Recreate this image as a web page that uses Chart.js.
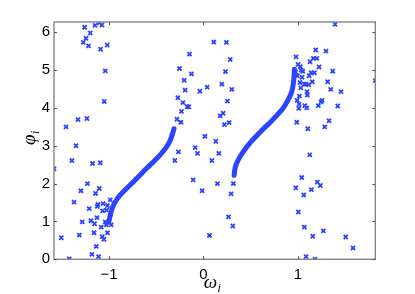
<!DOCTYPE html>
<html>
<head>
<meta charset="utf-8">
<script src="https://cdn.jsdelivr.net/npm/chart.js@4"></script>
<style>
html,body{margin:0;padding:0;background:#fff;}
canvas{display:block;}
</style>
</head>
<body>
<canvas id="c" width="415" height="294"></canvas>
<script>
// ---- data ----
const xTickVals = [-1, 0, 1];
const yTickVals = [0, 1, 2, 3, 4, 5, 6];
const xRange = [-1.583, 1.82];
const yRange = [0, 6.27];

// locked oscillators: left branch
const branch1W = [-1.003, -0.995, -0.986, -0.966, -0.934, -0.881, -0.811, -0.741, -0.670, -0.599, -0.529, -0.458, -0.405, -0.363, -0.335, -0.312];
const branch1P = [0.98, 1.08, 1.17, 1.35, 1.52, 1.70, 1.88, 2.05, 2.23, 2.41, 2.58, 2.76, 2.92, 3.08, 3.26, 3.45];
// locked oscillators: right branch
const branch2W = [0.325, 0.330, 0.339, 0.367, 0.420, 0.491, 0.561, 0.632, 0.703, 0.772, 0.843, 0.896, 0.935, 0.952, 0.960, 0.963];
const branch2P = [2.22, 2.33, 2.45, 2.62, 2.84, 3.07, 3.26, 3.44, 3.61, 3.79, 3.99, 4.21, 4.43, 4.65, 4.87, 5.02];

// drifting oscillators
const driftW = [
 -1.259,-1.104,-1.075,-1.149,-1.199,-1.244,-1.273,-1.217,-1.090,-1.019,-1.040,-1.051,-1.456,-1.329,-1.234,-1.350,
 -1.583,-1.393,-1.175,-1.093,-1.228,-1.298,-1.104,-1.143,-1.371,-1.117,-1.125,-1.062,-1.016,-1.210,-1.069,-1.026,
 -1.128,-1.284,-1.192,-1.153,-1.040,-1.030,-1.083,-0.977,-1.159,-1.016,-1.315,-1.072,-1.054,-1.506,-1.135,-1.181,
 -1.111,-1.422,-0.987,
 0.110,0.243,-0.148,0.283,-0.254,-0.127,0.233,-0.204,0.195,0.039,-0.194,-0.038,0.300,-0.271,0.254,-0.218,
 -0.172,-0.155,-0.233,0.208,0.177,-0.281,-0.239,0.272,0.222,0.015,0.131,-0.088,-0.265,-0.063,0.163,-0.303,
 0.089,-0.109,0.148,0.317,-0.014,0.293,0.265,0.311,0.063,
 1.394,1.820,1.189,1.298,0.981,1.164,1.200,1.129,1.002,1.026,1.224,1.034,1.052,0.974,1.140,1.175,1.369,0.995,
 1.044,1.119,1.023,1.153,1.316,1.069,1.087,1.115,1.031,1.348,1.457,1.097,1.016,0.992,1.256,1.245,1.013,1.073,
 1.217,1.422,1.010,1.094,1.330,0.988,1.284,1.105,1.100,
 1.126,1.041,1.206,1.238,0.978,1.143,1.062,1.005,1.069,1.270,1.158,1.507,1.584,1.087,1.182
];
const driftP = [
 6.13,6.25,6.19,6.18,5.98,5.84,5.73,5.64,5.55,5.66,4.98,4.17,3.50,3.69,3.72,3.00,
 2.39,2.61,2.53,2.55,2.00,1.81,1.87,1.74,1.51,1.45,1.40,1.47,1.42,1.34,1.28,1.30,
 1.10,0.99,1.02,0.94,0.99,0.91,0.85,0.91,0.70,0.70,0.64,0.60,0.53,0.57,0.34,0.13,
 0.07,0.01,1.57,
 5.74,5.73,5.42,5.28,5.04,4.90,4.96,4.73,4.63,4.55,4.47,4.44,4.49,4.27,4.18,4.14,
 4.03,4.03,3.91,3.86,3.79,3.70,3.62,3.61,3.56,3.25,3.12,2.95,2.84,2.80,2.80,2.61,
 2.61,2.10,2.00,2.00,1.81,1.73,1.12,0.88,0.63,
 6.21,4.72,5.53,5.50,5.35,5.31,5.31,5.22,5.15,5.09,5.08,5.00,4.97,4.95,4.93,4.93,4.97,4.85,
 4.81,4.85,4.67,4.69,4.69,4.63,4.63,4.61,4.53,4.49,4.43,4.43,4.31,4.20,4.20,4.16,4.10,4.06,
 4.06,4.05,3.99,4.00,3.66,3.62,3.50,3.45,4.34,
 2.76,2.16,2.04,1.95,1.89,1.84,1.70,1.25,0.85,0.75,0.61,0.59,0.30,0.07,0.00
];

// ---- styling ----
const BLUE = '#2a44ff';
const AXIS = '#858585';
const toXY = (w, p) => w.map((v, i) => ({x: v, y: p[i]}));

const framePlugin = {
  id: 'frame',
  afterDraw(chart) {
    const {ctx, chartArea: a, scales: {x, y}} = chart;
    ctx.save();
    ctx.strokeStyle = AXIS;
    ctx.lineWidth = 1.4;
    ctx.strokeRect(a.left, a.top, a.right - a.left, a.bottom - a.top);
    ctx.strokeStyle = '#555';
    ctx.lineWidth = 1;
    const t = 3;
    ctx.beginPath();
    xTickVals.forEach(v => {
      const px = Math.round(x.getPixelForValue(v)) + 0.5;
      ctx.moveTo(px, a.bottom); ctx.lineTo(px, a.bottom - t);
      ctx.moveTo(px, a.top); ctx.lineTo(px, a.top + t);
    });
    yTickVals.forEach(v => {
      const py = Math.round(y.getPixelForValue(v)) + 0.5;
      ctx.moveTo(a.left, py); ctx.lineTo(a.left + t, py);
      ctx.moveTo(a.right, py); ctx.lineTo(a.right - t, py);
    });
    ctx.stroke();

    // axis titles with subscripts
    ctx.fillStyle = '#000';
    ctx.textBaseline = 'alphabetic';
    const drawSub = (base, sub, cx, cy) => {
      ctx.font = 'italic 19px "Liberation Serif", "DejaVu Serif", serif';
      const wb = ctx.measureText(base).width;
      ctx.font = 'italic 12px "Liberation Serif", "DejaVu Serif", serif';
      const ws = ctx.measureText(sub).width;
      const x0 = cx - (wb + ws) / 2;
      ctx.font = 'italic 19px "Liberation Serif", "DejaVu Serif", serif';
      ctx.fillText(base, x0, cy);
      ctx.font = 'italic 12px "Liberation Serif", "DejaVu Serif", serif';
      ctx.fillText(sub, x0 + wb + 0.5, cy + 4);
    };
    drawSub('\u03C9', 'i', 212, 288);
    ctx.save();
    ctx.translate(35, 138);
    ctx.rotate(-Math.PI / 2);
    drawSub('\u03C6', 'i', 0, 0);
    ctx.restore();
    ctx.restore();
  }
};

const fmt = v => (v < 0 ? '\u2212' + Math.abs(v) : String(v));

new Chart(document.getElementById('c'), {
  type: 'scatter',
  data: {
    datasets: [
      {
        data: toXY(branch1W, branch1P),
        showLine: true, borderColor: BLUE, borderWidth: 5,
        pointRadius: 0, borderCapStyle: 'round', borderJoinStyle: 'round', tension: 0.3
      },
      {
        data: toXY(branch2W, branch2P),
        showLine: true, borderColor: BLUE, borderWidth: 5,
        pointRadius: 0, borderCapStyle: 'round', borderJoinStyle: 'round', tension: 0.3
      },
      {
        data: toXY(driftW, driftP),
        pointStyle: 'crossRot', pointRadius: 2.9, borderWidth: 1.8,
        borderColor: BLUE, backgroundColor: BLUE
      }
    ]
  },
  options: {
    responsive: false,
    animation: false,
    devicePixelRatio: 1,
    layout: {padding: {left: 0, right: 39.7, top: 22, bottom: 0}},
    plugins: {legend: {display: false}, tooltip: {enabled: false}},
    scales: {
      x: {
        type: 'linear', min: xRange[0], max: xRange[1],
        grid: {display: false, drawTicks: false},
        border: {display: false},
        ticks: {
          color: '#000', padding: 7,
          font: {family: '"Liberation Sans", Arial, sans-serif', size: 15},
          callback: fmt
        },
        afterBuildTicks: s => { s.ticks = xTickVals.map(v => ({value: v})); },
        afterFit: s => { s.height = 34.7; }
      },
      y: {
        type: 'linear', min: yRange[0], max: yRange[1],
        grid: {display: false, drawTicks: false},
        border: {display: false},
        ticks: {
          color: '#000', padding: 4,
          font: {family: '"Liberation Sans", Arial, sans-serif', size: 15},
          callback: fmt
        },
        afterBuildTicks: s => { s.ticks = yTickVals.map(v => ({value: v})); },
        afterFit: s => { s.width = 54; }
      }
    }
  },
  plugins: [framePlugin]
});
</script>
</body>
</html>
